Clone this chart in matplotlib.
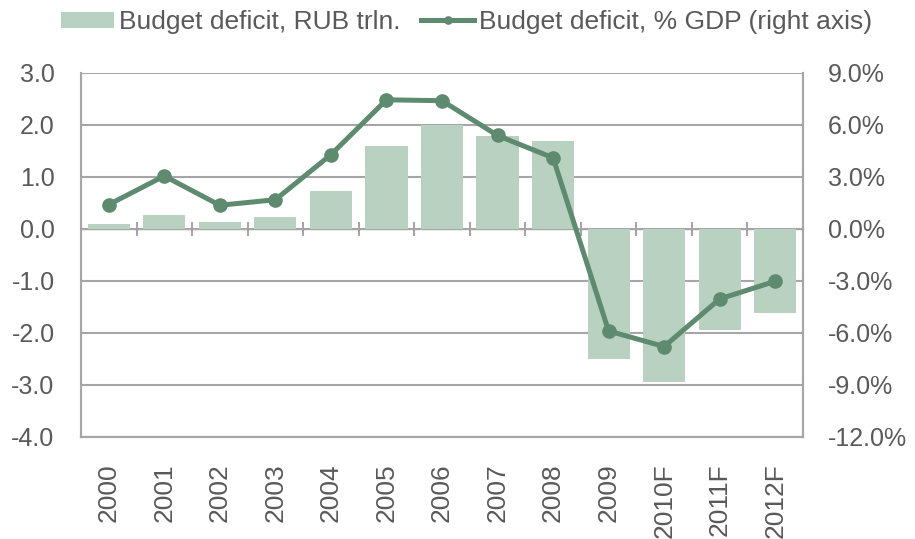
import numpy as np
import matplotlib
matplotlib.use('Agg')
import matplotlib.pyplot as plt
from matplotlib.ticker import FuncFormatter

years = ['2000', '2001', '2002', '2003', '2004', '2005', '2006', '2007',
         '2008', '2009', '2010F', '2011F', '2012F']
deficit_rub = [0.10, 0.26, 0.14, 0.22, 0.72, 1.60, 2.00, 1.78, 1.70,
               -2.50, -2.95, -1.94, -1.62]
deficit_gdp = [1.40, 3.05, 1.36, 1.68, 4.28, 7.45, 7.40, 5.39, 4.10,
               -5.90, -6.80, -4.05, -3.03]

bar_color = '#b8d1c1'
line_color = '#5e8a6f'
grid_color = '#a6a6a6'
text_color = '#595959'

plt.rcParams['font.family'] = ['Liberation Sans', 'DejaVu Sans']
plt.rcParams['font.size'] = 18

fig = plt.figure(figsize=(9.15, 5.39), dpi=100)
ax = fig.add_axes([0.0885, 0.190, 0.7891, 0.6746])
ax2 = ax.twinx()

x = np.arange(len(years))
bars = ax.bar(x, deficit_rub, width=0.76, color=bar_color, zorder=2,
              label='Budget deficit, RUB trln.')
line, = ax2.plot(x, deficit_gdp, color=line_color, lw=3.6, marker='o',
                 markersize=9.5, zorder=3,
                 label='Budget deficit, % GDP (right axis)')

ax.set_xlim(-0.5, len(years) - 0.5)
ax.set_ylim(-4, 3)
ax.set_yticks(np.arange(-4, 3.1, 1))
ax.yaxis.set_major_formatter(FuncFormatter(lambda v, p: f'{v:.1f}'))
ax2.set_ylim(-12, 9)
ax2.set_yticks(np.arange(-12, 9.1, 3))
ax2.yaxis.set_major_formatter(FuncFormatter(lambda v, p: f'{v:.1f}%'))

ax.grid(axis='y', color=grid_color, lw=1.5, zorder=0)
ax.set_axisbelow(True)

ax.set_xticks(x)
ax.set_xticklabels(years, rotation=90, fontsize=19)
ax.tick_params(axis='x', length=0, pad=19, colors=text_color)
ax.tick_params(axis='y', length=0, pad=19, colors=text_color)
ax2.tick_params(axis='y', length=0, pad=18, colors=text_color)

for a in (ax, ax2):
    for side in ('left', 'right', 'bottom'):
        a.spines[side].set_color(grid_color)
        a.spines[side].set_linewidth(1.5)
    a.spines['top'].set_visible(False)

# category axis line at zero with crossing tick marks between categories
zero_axis = ax.secondary_xaxis(4 / 7)
zero_axis.set_xticks(x[:-1] + 0.5)
zero_axis.set_xticklabels([])
zero_axis.tick_params(direction='inout', length=10, width=1.5, color=grid_color)
zero_axis.spines['bottom'].set_color(grid_color)
zero_axis.spines['bottom'].set_linewidth(1.5)

fig.legend(handles=[bars, line], loc='upper center', ncol=2,
           bbox_to_anchor=(0.51, 1.025), frameon=False, handlelength=2.0,
           handleheight=0.6, handletextpad=0.2, columnspacing=0.8,
           markerscale=0.55, labelcolor=text_color, fontsize=19)

fig.savefig('out.png', dpi=100)
